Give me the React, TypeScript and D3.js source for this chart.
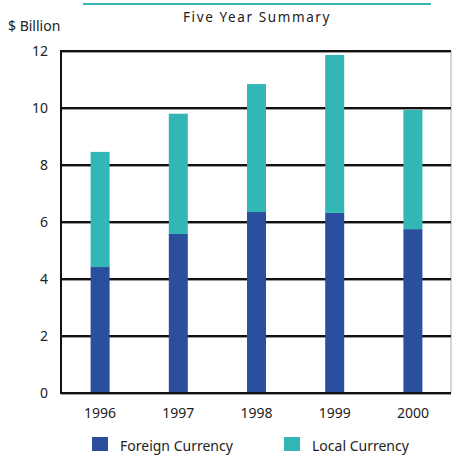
import React from "react";
import * as d3 from "d3";

const years = ["1996", "1997", "1998", "1999", "2000"];
const foreign = [4.42, 5.58, 6.35, 6.32, 5.75];
const local = [4.04, 4.22, 4.49, 5.54, 4.18];
const yTicks = [0, 2, 4, 6, 8, 10, 12];
const seriesNames = ["Foreign Currency", "Local Currency"];
const colors = ["#2a4f9e", "#33b6b6"];

const W = 452, H = 457;
const left = 61, right = 451, top = 51, bottom = 393;
const font = "'Noto Sans', 'Open Sans', sans-serif";

export default function App() {
  const x = d3.scaleBand<string>().domain(years).range([left, right + 1]).paddingInner(0.76).paddingOuter(0.38);
  const y = d3.scaleLinear().domain([0, 12]).range([bottom, top]);
  const data = years.map((yr, i) => ({ yr, foreign: foreign[i], local: local[i] }));
  const stack = d3.stack<any>().keys(["foreign", "local"])(data);
  const bw = 19;
  return (
    <svg width={W} height={H} style={{ position: "absolute", left: 0, top: 0, background: "#fff" }} fontFamily={font}>
      <line x1={83} x2={431} y1={4} y2={4} stroke="#33b6b6" strokeWidth={2} />
      <text x={257} y={22} textAnchor="middle" fontSize={13.5} letterSpacing={1.6} fill="#222">Five Year Summary</text>
      <text x={8} y={31} fontSize={14} fill="#222">$ Billion</text>
      <line x1={right} x2={right} y1={top} y2={bottom} stroke="#c8c8c8" strokeWidth={1.5} />
      {yTicks.map((t) => (
        <g key={t}>
          <line x1={left} x2={right} y1={y(t) + 1.5} y2={y(t) + 1.5} stroke="#999" strokeWidth={1} />
          <line x1={left} x2={right} y1={y(t)} y2={y(t)} stroke="#111" strokeWidth={2} />
          <text x={48} y={y(t) + 5} textAnchor="end" fontSize={14} fill="#222">{t}</text>
        </g>
      ))}
      {stack.map((s, si) =>
        s.map((d, i) => {
          const cx = x(years[i])! + x.bandwidth() / 2;
          return (
            <rect key={si + "-" + i} x={cx - bw / 2} width={bw} y={y(d[1])} height={y(d[0]) - y(d[1])} fill={colors[si]} />
          );
        })
      )}
      <line x1={left} x2={left} y1={top - 1} y2={bottom + 1} stroke="#111" strokeWidth={2} />
      <line x1={left} x2={right} y1={bottom} y2={bottom} stroke="#111" strokeWidth={2} />
      {years.map((yr) => (
        <text key={yr} x={x(yr)! + x.bandwidth() / 2} y={418} textAnchor="middle" fontSize={14} fill="#222">{yr}</text>
      ))}
      {seriesNames.map((n, i) => {
        const lx = [92, 284][i];
        return (
          <g key={n}>
            <rect x={lx} y={437} width={16} height={14} fill={colors[i]} />
            <text x={lx + 28} y={451} fontSize={14} fill="#222">{n}</text>
          </g>
        );
      })}
    </svg>
  );
}
